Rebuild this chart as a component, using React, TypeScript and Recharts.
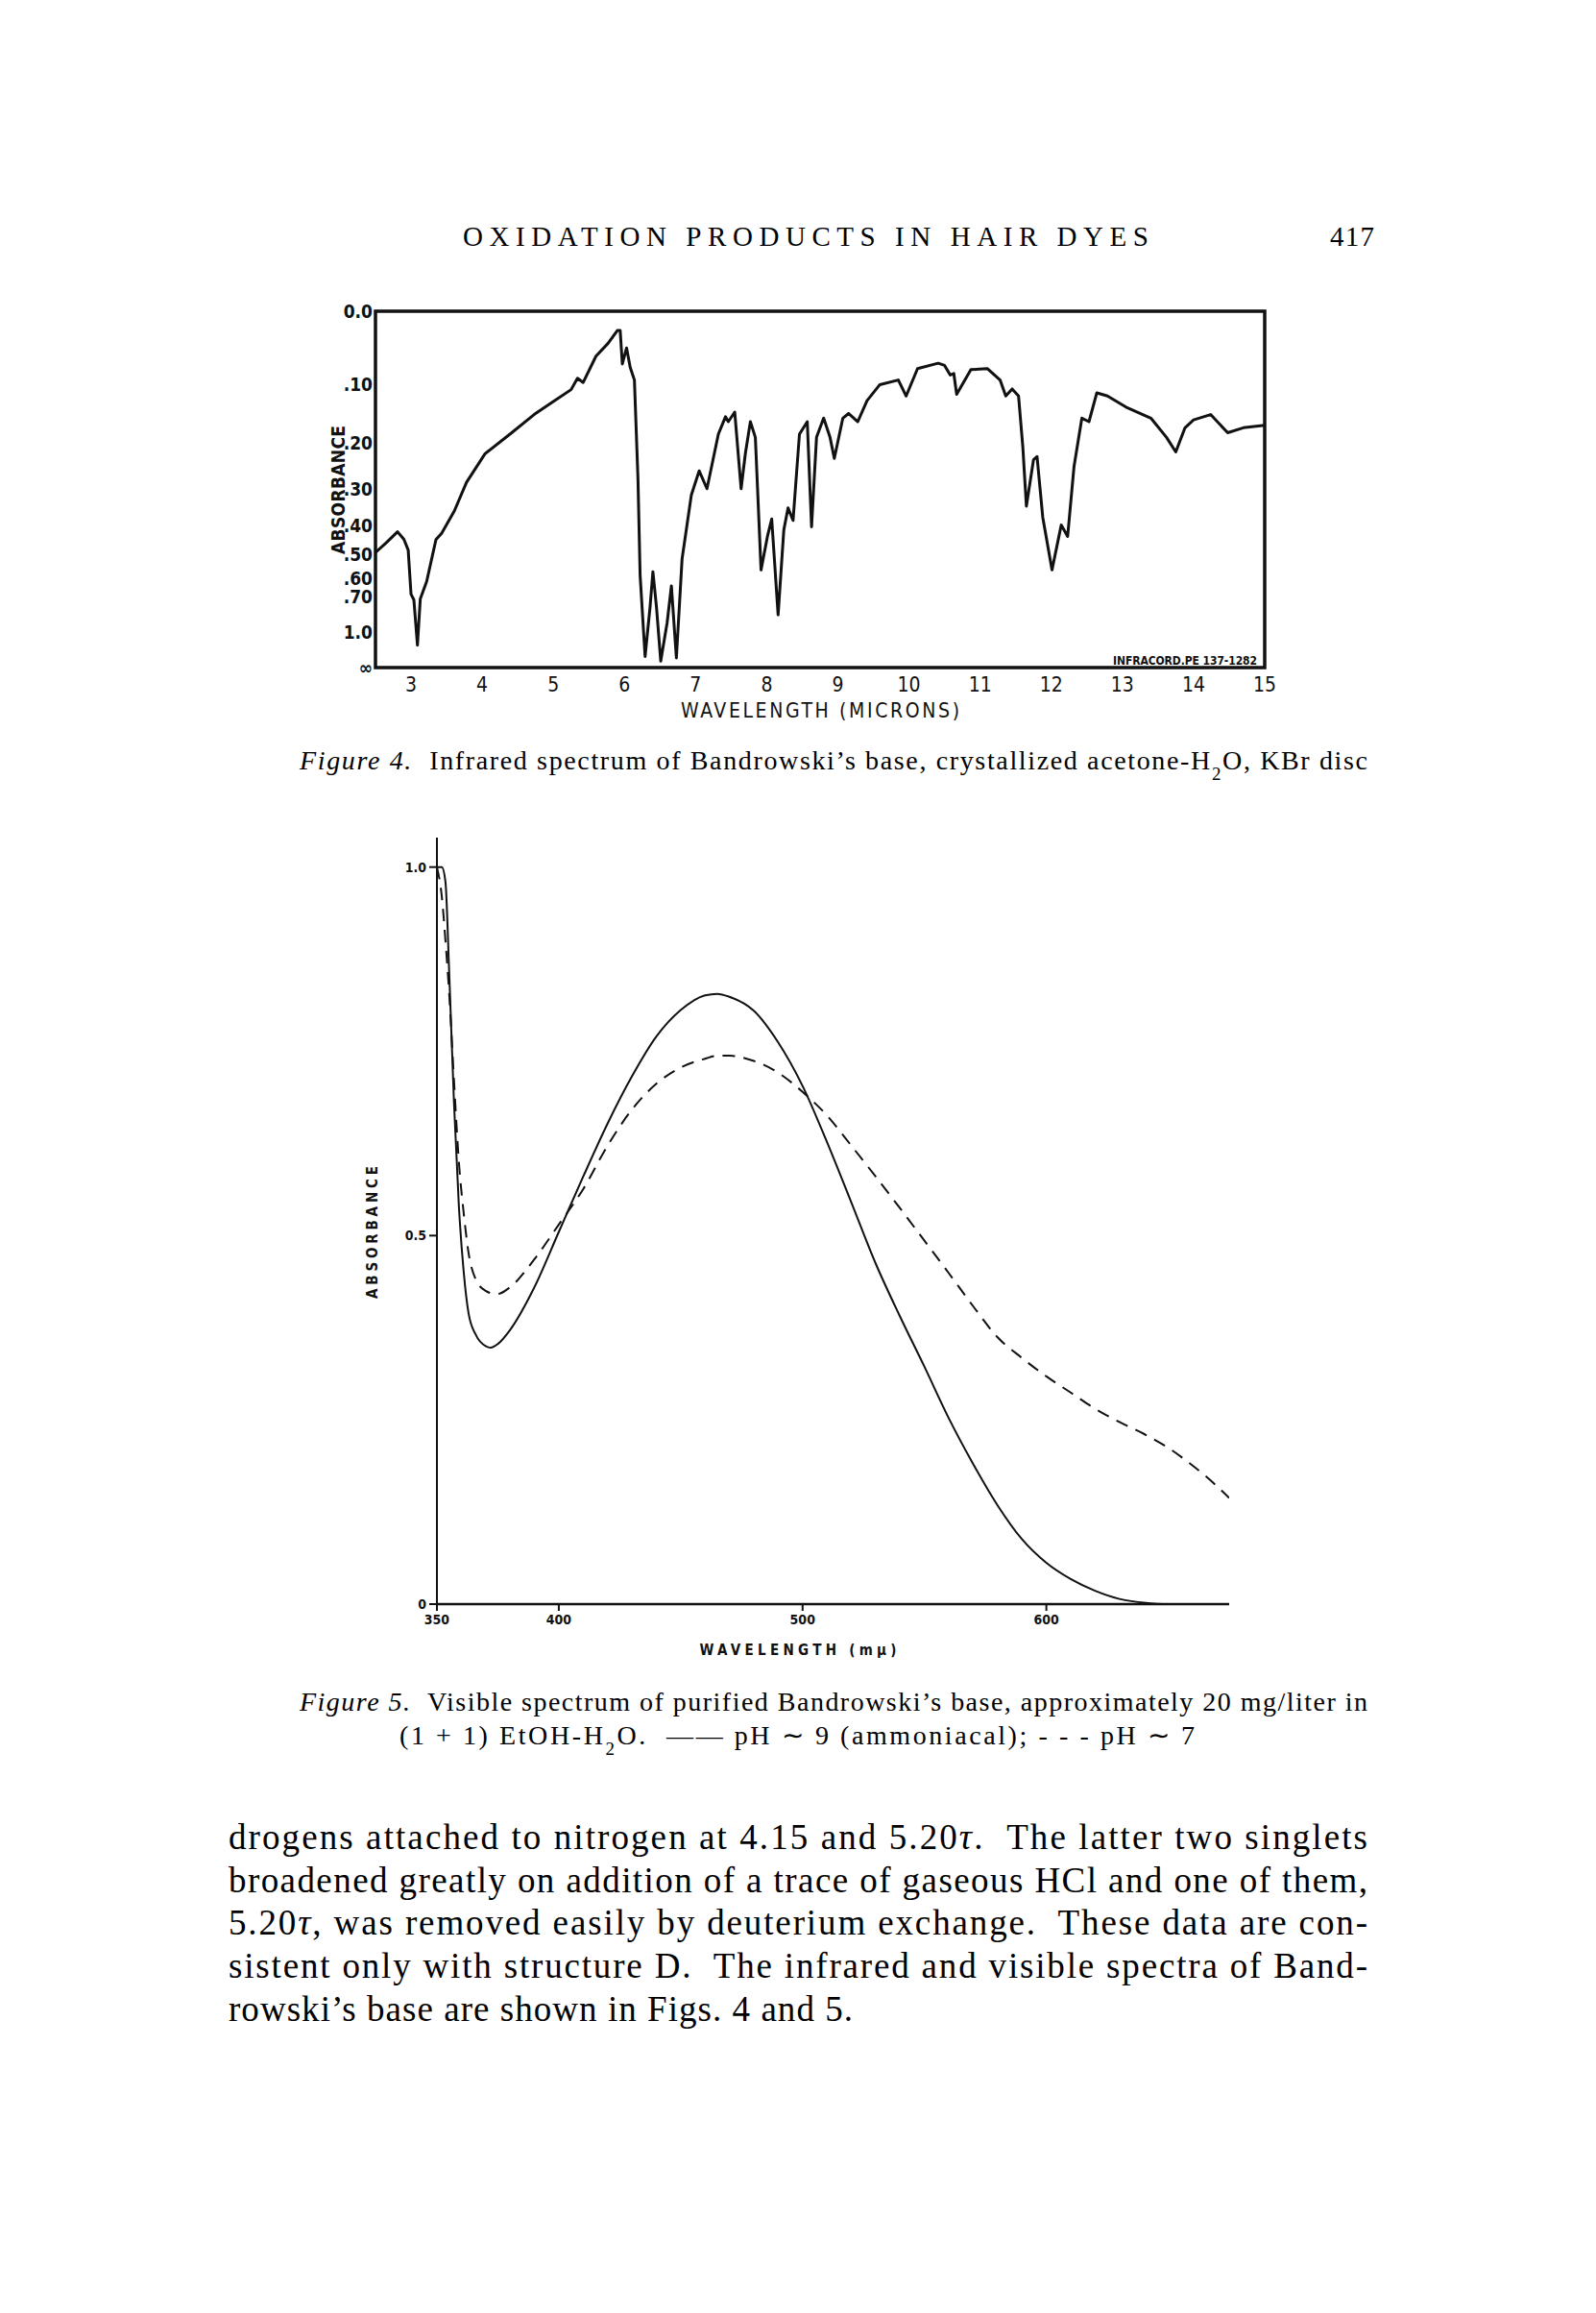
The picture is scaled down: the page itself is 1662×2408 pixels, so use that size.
import { LineChart, Line, XAxis, YAxis, ReferenceArea } from "recharts";

// Figure 4 – infrared spectrum (pen position is linear in transmittance)
const irMicrons = [
  2.5, 2.65, 2.81, 2.9, 2.96, 3.0, 3.04, 3.09, 3.13, 3.22, 3.35, 3.43, 3.61, 3.78, 4.04, 4.39, 4.73, 4.99, 5.25, 5.34,
  5.42, 5.6, 5.77, 5.9, 5.94, 5.97, 6.03, 6.08, 6.14, 6.19, 6.22, 6.29, 6.36, 6.4, 6.45, 6.51, 6.6, 6.66, 6.73, 6.81,
  6.94, 7.05, 7.16, 7.32, 7.42, 7.46, 7.55, 7.64, 7.7, 7.77, 7.84, 7.92, 8.01, 8.07, 8.16, 8.24, 8.3, 8.37, 8.46, 8.57,
  8.63, 8.7, 8.8, 8.89, 8.95, 9.07, 9.15, 9.28, 9.41, 9.59, 9.85, 9.96, 10.12, 10.41, 10.5, 10.58, 10.63, 10.67, 10.87,
  11.1, 11.28, 11.36, 11.45, 11.54, 11.6, 11.65, 11.75, 11.8, 11.88, 12.01, 12.14, 12.23, 12.32, 12.43, 12.53, 12.64,
  12.79, 13.05, 13.4, 13.62, 13.75, 13.88, 14.0, 14.24, 14.48, 14.7, 15.0,
];
const irTransmittance = [
  0.323, 0.35, 0.381, 0.36, 0.33, 0.206, 0.19, 0.063, 0.193, 0.242, 0.359, 0.377, 0.44, 0.52, 0.6, 0.655, 0.71, 0.745,
  0.78, 0.812, 0.8, 0.874, 0.91, 0.946, 0.946, 0.852, 0.897, 0.843, 0.807, 0.529, 0.26, 0.031, 0.17, 0.269, 0.17,
  0.018, 0.126, 0.229, 0.027, 0.305, 0.484, 0.552, 0.502, 0.655, 0.704, 0.69, 0.717, 0.502, 0.601, 0.69, 0.646, 0.274,
  0.368, 0.417, 0.148, 0.386, 0.448, 0.413, 0.655, 0.69, 0.395, 0.646, 0.7, 0.646, 0.587, 0.7, 0.713, 0.69, 0.749,
  0.794, 0.807, 0.762, 0.839, 0.854, 0.848, 0.821, 0.825, 0.767, 0.836, 0.839, 0.807, 0.762, 0.782, 0.762, 0.619,
  0.453, 0.583, 0.592, 0.422, 0.274, 0.4, 0.368, 0.565, 0.7, 0.69, 0.771, 0.762, 0.731, 0.7, 0.646, 0.605, 0.673,
  0.695, 0.71, 0.659, 0.673, 0.68,
];
const irXTicks = [3, 4, 5, 6, 7, 8, 9, 10, 11, 12, 13, 14, 15];
const irAbsValues = [0, 0.1, 0.2, 0.3, 0.4, 0.5, 0.6, 0.7, 1.0, Infinity];
const irAbsLabels = ["0.0", ".10", ".20", ".30", ".40", ".50", ".60", ".70", "1.0", "\u221e"];

// Figure 5 – visible spectrum
const visWavelength = [
  350, 352, 353.5, 355, 357, 359, 361, 363, 366, 370, 372, 375, 380, 390, 400, 410, 420, 430, 440, 450, 460, 465,
  470, 480, 490, 500, 510, 520, 530, 540, 550, 560, 570, 580, 590, 600, 610, 620, 630, 640, 650, 660, 670, 675,
];
const visPh9 = [
  1.0, 1.0, 0.98, 0.86, 0.68, 0.54, 0.45, 0.394, 0.365, 0.35, 0.348, 0.353, 0.372, 0.43, 0.505, 0.58, 0.652, 0.716,
  0.77, 0.806, 0.826, 0.828, 0.824, 0.805, 0.762, 0.703, 0.627, 0.545, 0.462, 0.39, 0.322, 0.252, 0.19, 0.134, 0.088,
  0.056, 0.034, 0.018, 0.007, 0.002, 0, 0, 0, null,
];
const visPh7 = [
  1.0, 0.96, 0.9, 0.83, 0.71, 0.6, 0.53, 0.476, 0.44, 0.425, 0.422, 0.421, 0.43, 0.468, 0.515, 0.563, 0.622, 0.671,
  0.706, 0.728, 0.74, 0.744, 0.744, 0.737, 0.721, 0.695, 0.663, 0.622, 0.58, 0.537, 0.493, 0.449, 0.404, 0.362, 0.334,
  0.309, 0.287, 0.265, 0.247, 0.231, 0.212, 0.188, 0.16, 0.144,
];
const visXTicks = [350, 400, 500, 600];
const visYTicks = [0, 0.5, 1.0];

const irData = irMicrons.map((x, i) => ({ x, t: irTransmittance[i] }));
const irTickT = irAbsValues.map((a) => Math.pow(10, -a));
const visData = visWavelength.map((x, i) => ({ x, a9: visPh9[i], a7: visPh7[i] }));

const cond = '"DejaVu Sans Condensed", "Liberation Sans Narrow", "DejaVu Sans", sans-serif';
const serif = '"Liberation Serif", "Times New Roman", serif';

function absLabel(v: number) {
  let best = 0;
  irTickT.forEach((t, i) => {
    if (Math.abs(t - v) < Math.abs(irTickT[best] - v)) best = i;
  });
  return irAbsLabels[best];
}

export default function App() {
  const txt = { fontFamily: serif, fill: "#000", whiteSpace: "pre" as const };
  return (
    <div style={{ position: "absolute", left: 0, top: 0, width: 1662, height: 2408, background: "#fff" }}>
      <div style={{ position: "absolute", left: 300, top: 300 }}>
        <LineChart width={1100} height={470} data={irData} margin={{ top: 24, right: 83, bottom: 15, left: 0 }}>
          <XAxis
            dataKey="x"
            type="number"
            domain={[2.5, 15]}
            ticks={irXTicks}
            interval={0}
            allowDataOverflow
            axisLine={false}
            tickLine={false}
            tickSize={0}
            tickMargin={10}
            height={60}
            tick={{ fill: "#111", fontSize: 21, fontFamily: cond }}
          />
          <YAxis
            type="number"
            domain={[0, 1]}
            ticks={irTickT}
            interval={0}
            allowDataOverflow
            axisLine={false}
            tickLine={false}
            tickSize={0}
            tickMargin={3}
            width={91}
            tickFormatter={(v) => absLabel(v)}
            tick={{ fill: "#111", fontSize: 19, fontWeight: 700, fontFamily: cond }}
          />
          <ReferenceArea x1={2.5} x2={15} y1={0} y2={1} fill="none" fillOpacity={0} stroke="#111" strokeWidth={3.5} ifOverflow="visible" />
          <Line dataKey="t" stroke="#111" strokeWidth={3} dot={false} type="linear" strokeLinejoin="round" isAnimationActive={false} />
        </LineChart>
      </div>

      <div style={{ position: "absolute", left: 300, top: 850 }}>
        <LineChart width={1050} height={900} data={visData} margin={{ top: 22, right: 70, bottom: 10, left: 0 }}>
          <XAxis
            dataKey="x"
            type="number"
            domain={[350, 675]}
            ticks={visXTicks}
            interval={0}
            allowDataOverflow
            axisLine={{ stroke: "#111", strokeWidth: 2.5 }}
            tickLine={{ stroke: "#111", strokeWidth: 2 }}
            tickSize={7}
            tickMargin={4}
            height={70}
            tick={{ fill: "#111", fontSize: 14, fontWeight: 700, fontFamily: cond }}
          />
          <YAxis
            type="number"
            domain={[0, 1.04]}
            ticks={visYTicks}
            interval={0}
            allowDataOverflow
            axisLine={{ stroke: "#111", strokeWidth: 2 }}
            tickLine={{ stroke: "#111", strokeWidth: 2 }}
            tickSize={8}
            tickMargin={3}
            width={155}
            tickFormatter={(v) => (v === 0 ? "0" : v.toFixed(1))}
            tick={{ fill: "#111", fontSize: 14, fontWeight: 700, fontFamily: cond }}
          />
          <Line dataKey="a9" stroke="#111" strokeWidth={2} dot={false} type="monotone" isAnimationActive={false} />
          <Line dataKey="a7" stroke="#111" strokeWidth={2} strokeDasharray="13 9" dot={false} type="monotone" isAnimationActive={false} />
        </LineChart>
      </div>

      <svg width={1662} height={2408} style={{ position: "absolute", left: 0, top: 0, pointerEvents: "none" }}>
        <text x={482} y={256} fontSize={29} textLength={714} lengthAdjust="spacing" style={txt}>
          OXIDATION PRODUCTS IN HAIR DYES
        </text>
        <text x={1385} y={256} fontSize={29} textLength={46} lengthAdjust="spacing" style={txt}>
          417
        </text>

        <text transform="rotate(-90 352 510)" x={352} y={510} textAnchor="middle" dominantBaseline="central" fontSize={19} fontWeight={700} fontFamily={cond} textLength={134} lengthAdjust="spacing" fill="#111">
          ABSORBANCE
        </text>
        <text x={854} y={747} textAnchor="middle" fontSize={21} fontFamily={cond} textLength={290} lengthAdjust="spacing" fill="#111">
          WAVELENGTH (MICRONS)
        </text>
        <text x={1159} y={692} fontSize={12} fontWeight={700} fontFamily={cond} textLength={150} lengthAdjust="spacing" fill="#111">
          INFRACORD.PE  137-1282
        </text>

        <text x={312} y={801} fontSize={28} textLength={1112} lengthAdjust="spacing" style={txt}>
          <tspan fontStyle="italic">Figure 4.</tspan>
          {"  Infrared spectrum of Bandrowski\u2019s base, crystallized acetone-H"}
          <tspan baselineShift="sub" fontSize={19}>2</tspan>
          {"O, KBr disc"}
        </text>

        <text transform="rotate(-90 388 1283)" x={388} y={1283} textAnchor="middle" dominantBaseline="central" fontSize={15} fontWeight={700} fontFamily={cond} textLength={138} lengthAdjust="spacing" fill="#111">
          ABSORBANCE
        </text>
        <text x={831} y={1723} textAnchor="middle" fontSize={15} fontWeight={700} fontFamily={cond} textLength={205} lengthAdjust="spacing" fill="#111">
          {"WAVELENGTH (m\u03bc)"}
        </text>

        <text x={312} y={1781} fontSize={28} textLength={1112} lengthAdjust="spacing" style={txt}>
          <tspan fontStyle="italic">Figure 5.</tspan>
          {"  Visible spectrum of purified Bandrowski\u2019s base, approximately 20 mg/liter in"}
        </text>
        <text x={416} y={1816} fontSize={28} textLength={828} lengthAdjust="spacing" style={txt}>
          {"(1 + 1) EtOH-H"}
          <tspan baselineShift="sub" fontSize={19}>2</tspan>
          {"O.  \u2014\u2014 pH \u223c 9 (ammoniacal); - - - pH \u223c 7"}
        </text>

        <text x={238} y={1925} fontSize={37} textLength={1186} lengthAdjust="spacing" style={txt}>
          {"drogens attached to nitrogen at 4.15 and 5.20"}
          <tspan fontStyle="italic">{"\u03c4"}</tspan>
          {".  The latter two singlets"}
        </text>
        <text x={238} y={1970} fontSize={37} textLength={1186} lengthAdjust="spacing" style={txt}>
          broadened greatly on addition of a trace of gaseous HCl and one of them,
        </text>
        <text x={238} y={2014} fontSize={37} textLength={1186} lengthAdjust="spacing" style={txt}>
          {"5.20"}
          <tspan fontStyle="italic">{"\u03c4"}</tspan>
          {", was removed easily by deuterium exchange.  These data are con-"}
        </text>
        <text x={238} y={2059} fontSize={37} textLength={1186} lengthAdjust="spacing" style={txt}>
          {"sistent only with structure D.  The infrared and visible spectra of Band-"}
        </text>
        <text x={238} y={2104} fontSize={37} textLength={650} lengthAdjust="spacing" style={txt}>
          {"rowski\u2019s base are shown in Figs. 4 and 5."}
        </text>
      </svg>
    </div>
  );
}
